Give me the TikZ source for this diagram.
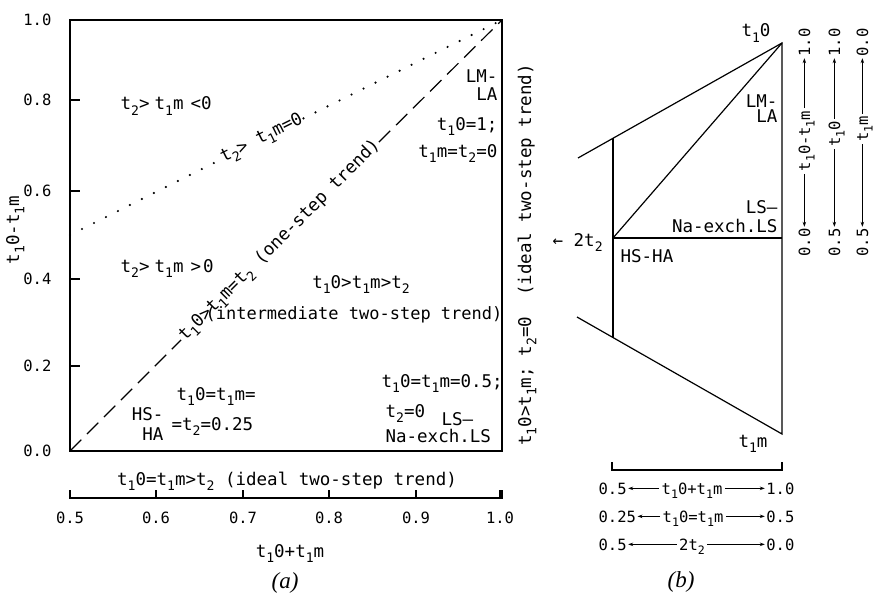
\documentclass[tikz,border=0pt]{standalone}
\usepackage{fontspec}
\newfontfamily\twfont{DejaVu Sans Mono}
\newfontfamily\figcapfont{Liberation Serif}
\usetikzlibrary{positioning, arrows.meta}
\tikzset{
	monotext/.style={font=\twfont\fontsize{17.5}{19}\selectfont, inner sep=1pt}
}
\tikzset{
	smallmonotext/.style={font=\twfont\fontsize{15.5}{17}\selectfont, inner sep=1pt}
}
\tikzset{
	captiontext/.style={font=\figcapfont\itshape\fontsize{23}{23}\selectfont}
}
\tikzset{
	dotline/.style={line width=2.4pt, line cap=round, dash pattern=on 0pt off 13.4pt},
	dashline/.style={dash pattern=on 16pt off 8pt},
	smallarrow/.style={-{Stealth[length=5pt,width=3.5pt]}, line width=0.8pt, shorten <=1pt}
}
\newcommand{\ix}[1]{\raisebox{-0.55ex}{\scalebox{0.75}{#1}}}

\begin{document}
\begin{tikzpicture}[x=1pt, y=-1pt, line width=1.2pt]
      \useasboundingbox (0,0) rectangle (877,599);
      % (a): frame and the two axes
      \draw (70,20) rectangle (502,451);
      \coordinate (orig) at (70,451);
      \coordinate (corner) at (502,20);
      \coordinate (halfway) at (70,235);
      \foreach \y/\v [count=\i] in {451/0.0, 366/0.2, 279/0.4, 191/0.6, 100/0.8, 20/1.0} {
        \draw (70,\y) -- (80,\y);
        \node[smallmonotext, anchor=east] (ytick\i) at (53,\y) {\v};
      }
      \draw (70,490) -- (70,498) -- (502,498) -- (502,490);
      \foreach \x/\v [count=\i] in {70/0.5, 156/0.6, 243/0.7, 329/0.8, 416/0.9, 500/1.0} {
        \draw (\x,498) -- (\x,490);
        \node[smallmonotext, anchor=base] (xtick\i) at (\x,523) {\v};
      }
      \node[monotext, rotate=90, anchor=base] (ylab) at (19,230) {t\ix{1}0-t\ix{1}m};
      \node[monotext, anchor=base] (xlab) at (290,557) {t\ix{1}0+t\ix{1}m};
      \node[monotext, anchor=base] (ideal) at (287,485) {t\ix{1}0=t\ix{1}m>t\ix{2} (ideal two-step trend)};
      \node[monotext, rotate=90, anchor=base] (idealv) at (531,255) {t\ix{1}0>t\ix{1}m; t\ix{2}=0\ \ (ideal two-step trend)};
      % one-step line, broken by its label
      \node[monotext, rotate=45] (onestep) at (280,241) {t\ix{1}0>t\ix{1}m=t\ix{2} (one-step trend)};
      \draw[dashline] (orig) -- (onestep.west);
      \draw[dashline] (onestep.east) -- (corner);
      % t2 = t1m line, dotted
      \node[monotext, rotate=26.5] (zeroline) at (262,139) {t\ix{2}> t\ix{1}m=0};
      \draw[dotline] (halfway) -- (zeroline.west);
      \draw[dotline] (zeroline.east) -- (corner);
      % fields
      \node[monotext, anchor=base west] (negfield) at (119,110) {t\ix{2}>\hspace{5pt}t\ix{1}m\hspace{7pt}<0};
      \node[monotext, anchor=base west] (posfield) at (119,272) {t\ix{2}>\hspace{5pt}t\ix{1}m\hspace{7pt}>\hspace{2pt}0};
      \node[monotext, anchor=base] (midfield) at (361,288) {t\ix{1}0>t\ix{1}m>t\ix{2}};
      \node[monotext, font=\twfont\fontsize{17}{19}\selectfont, anchor=base east] (midtrend) at (504,319) {(intermediate two-step trend)};
      \node[monotext, anchor=base east] (lma) at (499,83) {LM-};
      \node[monotext, anchor=base east] (lmb) at (499,100) {LA};
      \node[monotext, anchor=base east] (lmc) at (499,130) {t\ix{1}0=1;};
      \node[monotext, anchor=base east] (lmd) at (499,157) {t\ix{1}m=t\ix{2}=0};
      \node[monotext, anchor=base west] (lsa) at (380,387) {t\ix{1}0=t\ix{1}m=0.5;};
      \node[monotext, anchor=base west] (lsb) at (384,417) {t\ix{2}=0};
      \node[monotext, anchor=base west] (lsc) at (440,425) {LS—};
      \node[monotext, anchor=base west] (lsd) at (384,442) {Na-exch.LS};
      \node[monotext, anchor=base east] (hsa) at (165,420) {HS-};
      \node[monotext, anchor=base east] (hsb) at (165,440) {HA};
      \node[monotext, anchor=base west] (hsc) at (175,400) {t\ix{1}0=t\ix{1}m=};
      \node[monotext, anchor=base west] (hsd) at (170,430) {=t\ix{2}=0.25};
      \node[captiontext] (capa) at (285,583) {(a)};
      % (b): the section through the triangle
      \coordinate (top) at (782,43);
      \coordinate (bot) at (782,434);
      \coordinate (upl) at (578,158);
      \coordinate (lol) at (577,317);
      \coordinate (vtop) at (613,138.3);
      \coordinate (vbot) at (613,337.5);
      \coordinate (hl) at (613,238);
      \coordinate (hr) at (782,238);
      \draw (upl) -- (top) -- (bot) -- (lol);
      \draw (vtop) -- (vbot);
      \draw (hl) -- (hr);
      \draw (hl) -- (top);
      \draw (612,462) -- (612,470) -- (782,470) -- (782,462);
      \node[monotext, anchor=base] (tzero) at (756,37) {t\ix{1}0};
      \node[monotext, anchor=base] (tm) at (753,447) {t\ix{1}m};
      \node[monotext, anchor=base east] (blma) at (779,107) {LM-};
      \node[monotext, anchor=base east] (blmb) at (779,122) {LA};
      \node[monotext, anchor=base east] (blsa) at (779,213) {LS—};
      \node[monotext, anchor=base east] (blsb) at (779,232) {Na-exch.LS};
      \node[monotext, anchor=base west] (bhs) at (619,262) {HS-HA};
      \node[monotext, anchor=base west] (twot) at (551,246) {← 2t\ix{2}};
      % scales below (b)
      \foreach \yy/\lv/\mv/\mx/\rv [count=\i] in
          {494/0.5/t\ix{1}0+t\ix{1}m/692/1.0,
           522/0.25/t\ix{1}0=t\ix{1}m/693/0.5,
           550/0.5/2t\ix{2}/692/0.0} {
        \node[smallmonotext, anchor=base west] (row\i l) at (597,\yy) {\lv};
        \node[smallmonotext, anchor=base] (row\i m) at (\mx,\yy) {\mv};
        \node[smallmonotext, anchor=base east] (row\i r) at (796,\yy) {\rv};
        \draw[smallarrow] (row\i l.east -| row\i m.west) -- (row\i l.east);
        \draw[smallarrow] (row\i r.west -| row\i m.east) -- (row\i r.west);
      }
      % scales right of (b)
      \foreach \xx/\lv/\mv/\my/\hv [count=\i] in
          {810/0.0/t\ix{1}0-t\ix{1}m/141/1.0,
           840/0.5/t\ix{1}0/134/1.0,
           868/0.5/t\ix{1}m/129/0.0} {
        \node[smallmonotext, rotate=90, anchor=base west] (col\i l) at (\xx,258) {\lv};
        \node[smallmonotext, rotate=90, anchor=base] (col\i m) at (\xx,\my) {\mv};
        \node[smallmonotext, rotate=90, anchor=base east] (col\i h) at (\xx,27) {\hv};
        \draw[smallarrow] (col\i m.west -| col\i l.east) -- (col\i l.east);
        \draw[smallarrow] (col\i m.east -| col\i h.west) -- (col\i h.west);
      }
      \node[captiontext] (capb) at (681,582) {(b)};
    \end{tikzpicture}
\end{document}
